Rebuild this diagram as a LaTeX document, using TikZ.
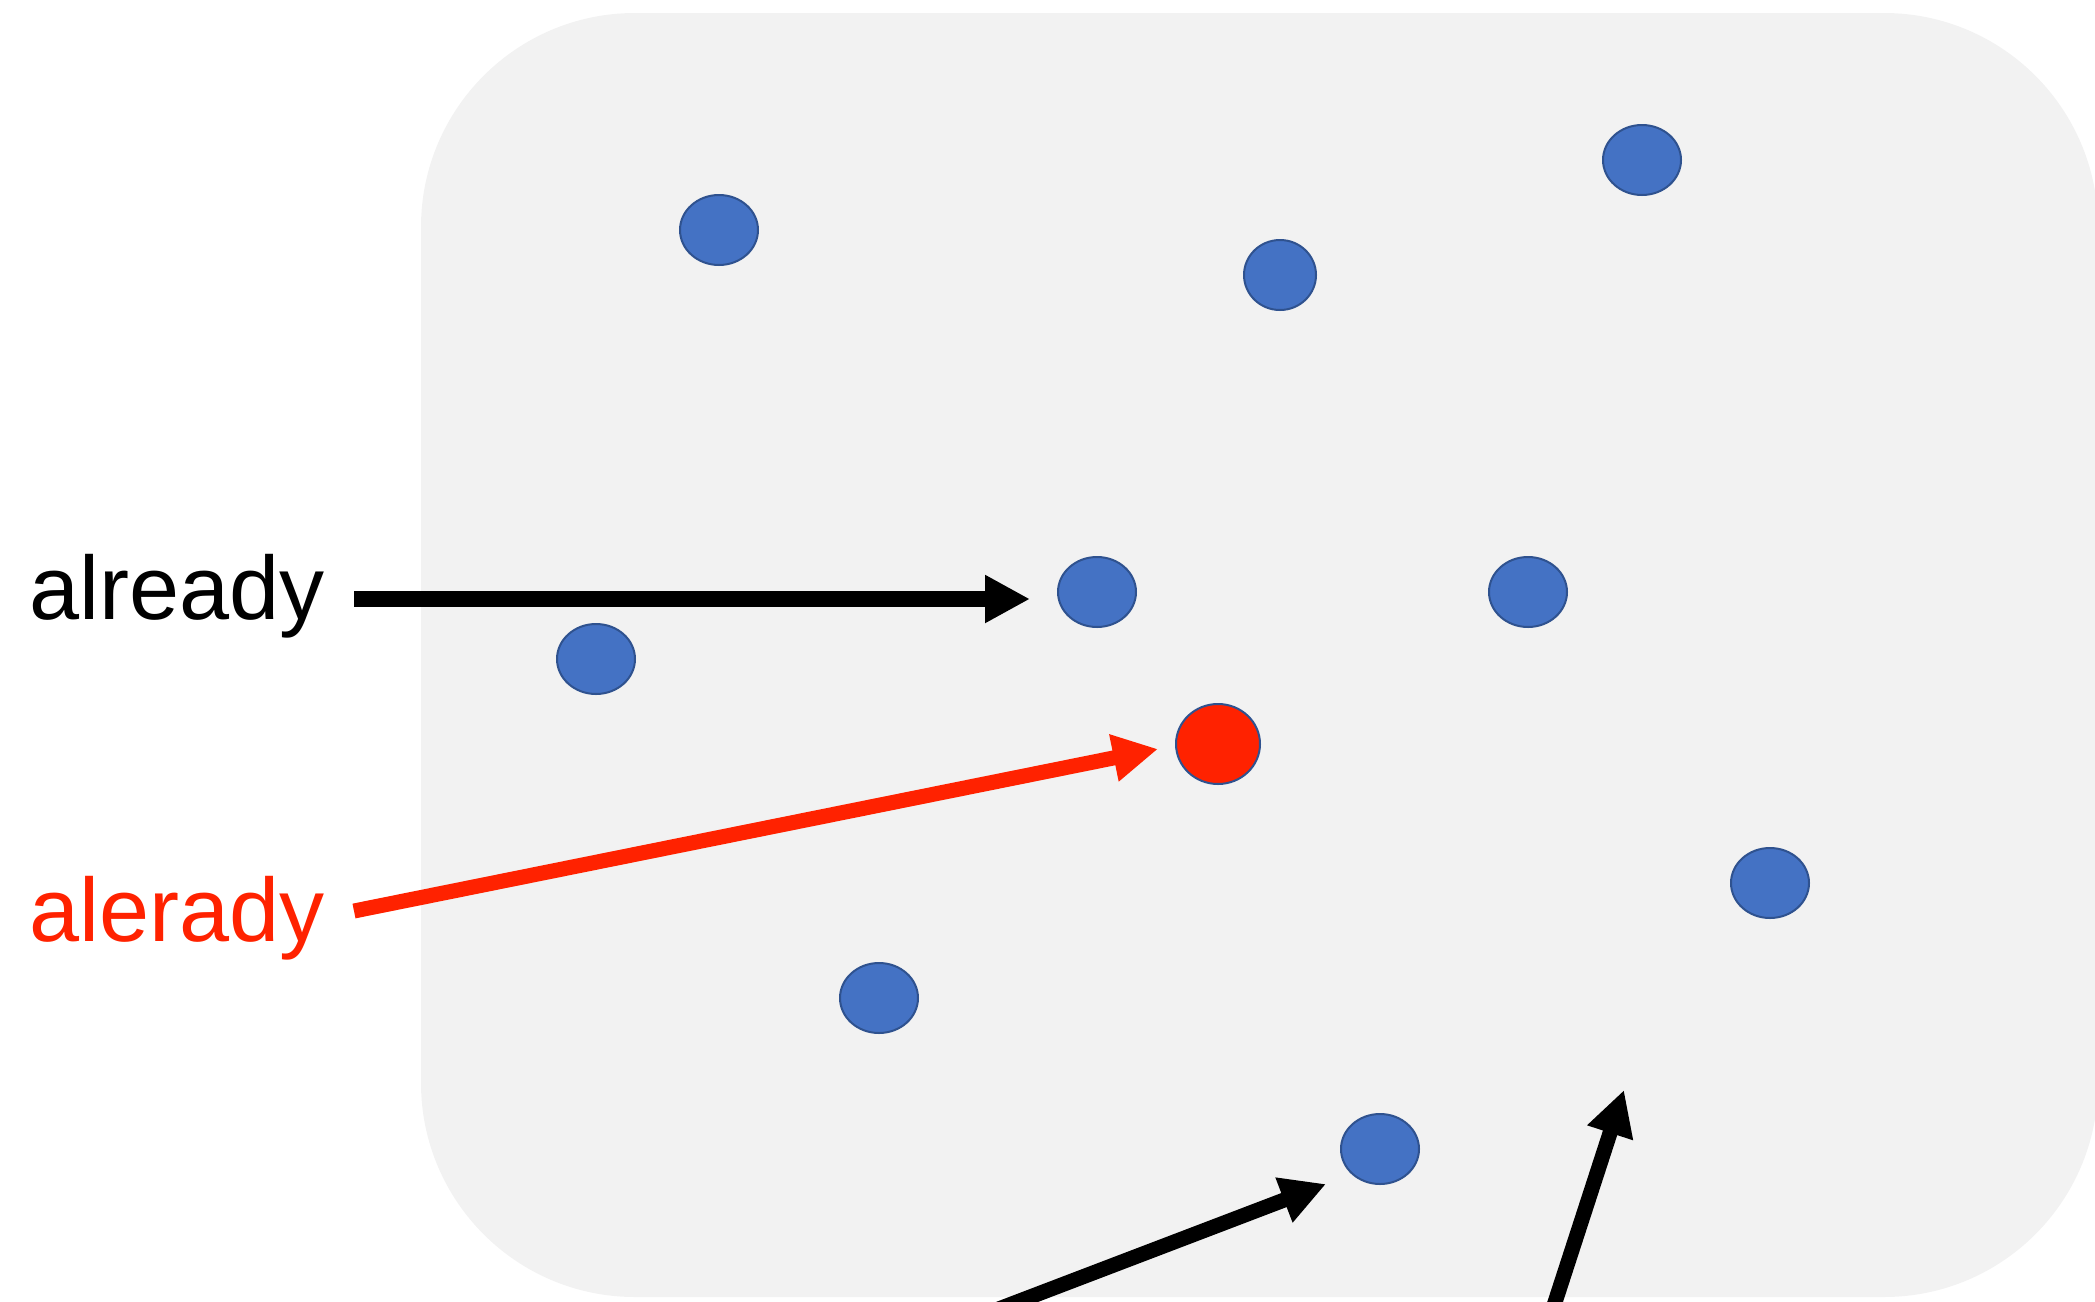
\documentclass[tikz,border=0pt]{standalone}
\usepackage{fontspec}
\setmainfont{Liberation Sans}
\usetikzlibrary{shapes.geometric,arrows.meta}
\definecolor{panel}{HTML}{F2F2F2}
\definecolor{dotblue}{HTML}{4472C4}
\definecolor{dotedge}{HTML}{2F528F}
\definecolor{errred}{HTML}{FF2200}
\tikzset{
  dotnode/.style={ellipse, fill=dotblue, draw=dotedge, line width=1pt, inner sep=0pt, minimum width=39pt, minimum height=35pt},
  reddot/.style={dotnode, fill=errred, minimum width=42pt, minimum height=40pt},
  word/.style={anchor=base west, inner sep=0pt, font=\fontsize{45pt}{54pt}\selectfont},
  bigarrow/.style={line width=7.5pt, -{Triangle[length=22.5pt, width=22.5pt]}},
}
\begin{document}
\begin{tikzpicture}[x=0.5pt, y=-0.5pt]
\useasboundingbox (0,0) rectangle (2095,1302);
\clip (0,0) rectangle (2095,1302);
\fill[panel, rounded corners=107pt] (421,13) rectangle (2098,1297);

\node[dotnode] (d1) at (719,230) {};
\node[dotnode, minimum width=36pt] (d2) at (1280,275) {};
\node[dotnode] (d3) at (1642,160) {};
\node[dotnode] (d4) at (1097,592) {};
\node[dotnode] (d5) at (1528,592) {};
\node[dotnode] (d6) at (596,659) {};
\node[reddot] (d7) at (1218,744) {};
\node[dotnode] (d8) at (1770,883) {};
\node[dotnode] (d9) at (879,998) {};
\node[dotnode] (d10) at (1380,1149) {};

\node[word] (already) at (29,619) {already};
\node[word, text=errred] (alerady) at (29,941) {alerady};

\coordinate (a1s) at (354,599);
\coordinate (a1e) at (1030,599);
\coordinate (a2s) at (354,911);
\coordinate (a2e) at (1158,749);
\coordinate (a3s) at (975,1318);
\coordinate (a3e) at (1326,1184);
\coordinate (a4s) at (1546,1330);
\coordinate (a4e) at (1624,1090);

\draw[bigarrow, line width=8pt] (a1s) -- (a1e);
\draw[bigarrow, errred] (a2s) -- (a2e);
\draw[bigarrow] (a3s) -- (a3e);
\draw[bigarrow] (a4s) -- (a4e);
\end{tikzpicture}
\end{document}
